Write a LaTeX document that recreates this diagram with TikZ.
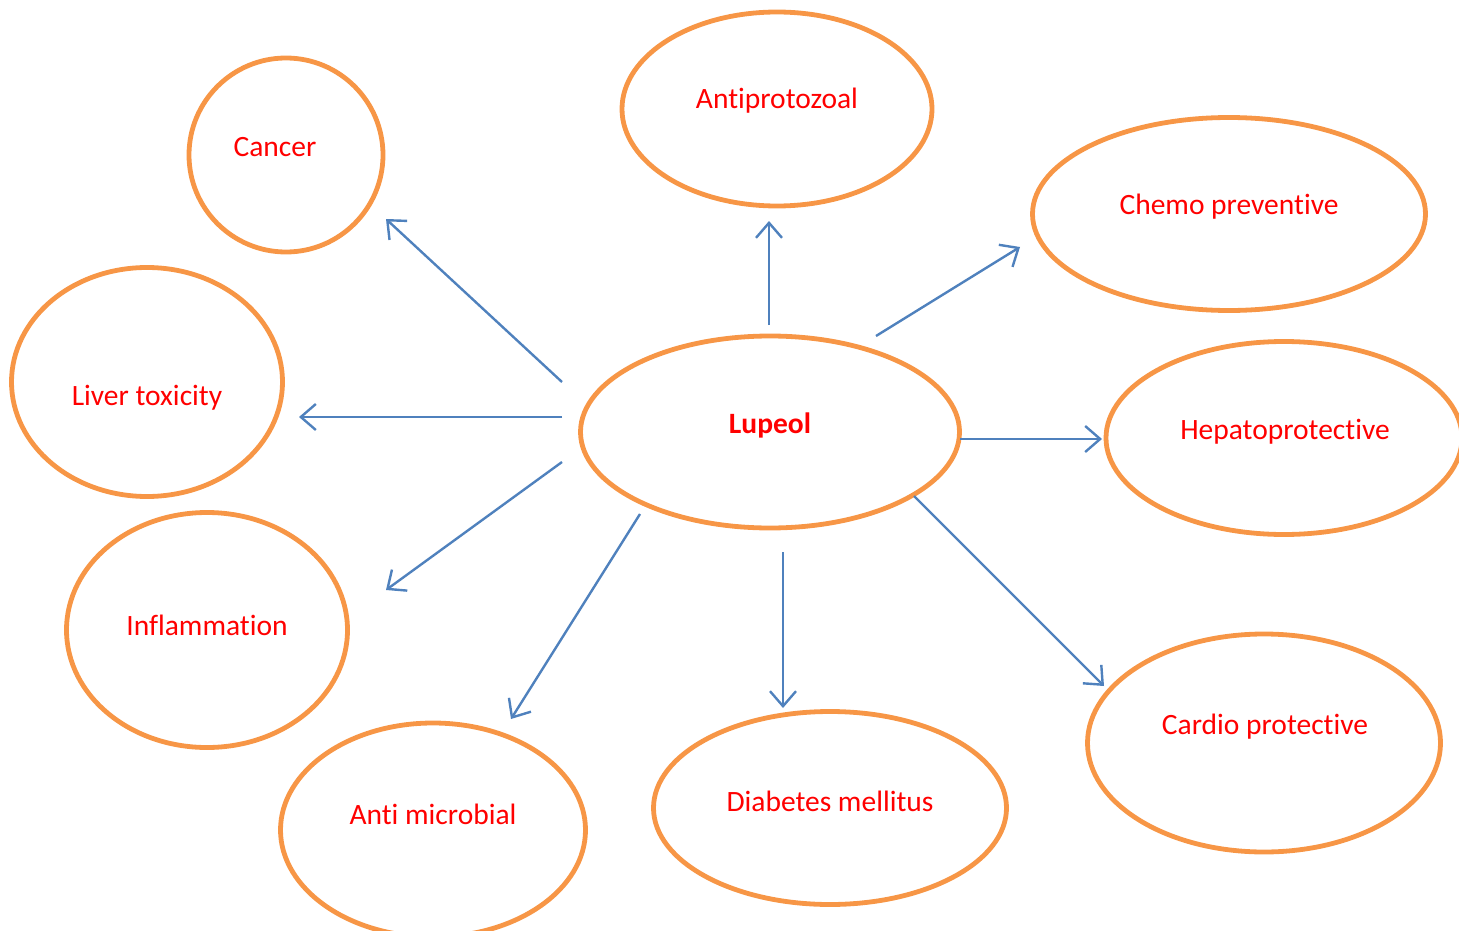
\documentclass[tikz,border=0pt]{standalone}
\usepackage{fontspec}
\setmainfont{Carlito}[Ligatures=NoCommon]
\usetikzlibrary{shapes.geometric,arrows.meta}
\definecolor{ringorange}{HTML}{F79646}
\definecolor{arrowblue}{HTML}{4F81BD}
\definecolor{labelred}{HTML}{FF0000}
\tikzset{
  ring/.style={ellipse, draw=ringorange, line width=4.8pt, inner sep=0pt, outer sep=0pt},
  lbl/.style={text=labelred, inner sep=0pt, font=\fontsize{29.5}{34}\selectfont},
  conn/.style={draw=arrowblue, line width=2.4pt, -{Straight Barb[length=15pt,width=26pt,line width=2.4pt]}}
}
\begin{document}
\begin{tikzpicture}[x=1pt,y=-1pt]
\useasboundingbox (0,0) rectangle (1459,931);
% ellipses
\node[ring, minimum width=194pt, minimum height=194pt] (cancer) at (286,155) {};
\node[ring, minimum width=310pt, minimum height=194pt] (antipro) at (777,109) {};
\node[ring, minimum width=393pt, minimum height=193pt] (chemo) at (1229,214) {};
\node[ring, minimum width=271pt, minimum height=229pt] (liver) at (147,382) {};
\node[ring, minimum width=379pt, minimum height=192pt] (lupeol) at (770,432) {};
\node[ring, minimum width=356pt, minimum height=193pt] (hepato) at (1284,438) {};
\node[ring, minimum width=281pt, minimum height=235pt] (inflam) at (207,630) {};
\node[ring, minimum width=353pt, minimum height=218pt] (cardio) at (1264,743) {};
\node[ring, minimum width=305pt, minimum height=214pt] (micro) at (433,830) {};
\node[ring, minimum width=353pt, minimum height=193pt] (diab) at (830,808) {};
% labels
\node[lbl] (cancerT) at (275,147) {Cancer};
\node[lbl] (antiproT) at (777,101) {Antiprotozoal};
\node[lbl] (chemoT) at (1229,207) {Chemo preventive};
\node[lbl] (liverT) at (147,398) {Liver toxicity};
\node[lbl, font=\fontsize{29.5}{34}\selectfont\bfseries] (lupeolT) at (770,425) {Lupeol};
\node[lbl] (hepatoT) at (1285,432) {Hepatoprotective};
\node[lbl] (inflamT) at (207,625) {Inflammation};
\node[lbl] (cardioT) at (1265,727) {Cardio protective};
\node[lbl] (microT) at (433,814) {Anti microbial};
\node[lbl] (diabT) at (830,801) {Diabetes mellitus};
% connector end points
\coordinate (s1) at (562,382); \coordinate (t1) at (386,219);
\coordinate (s2) at (769,325); \coordinate (t2) at (769,221);
\coordinate (s3) at (876,336); \coordinate (t3) at (1020,247);
\coordinate (s4) at (562,417); \coordinate (t4) at (299,417);
\coordinate (s5) at (562,462); \coordinate (t5) at (386,590);
\coordinate (s6) at (960,439); \coordinate (t6) at (1102,439);
\coordinate (s7) at (640,514); \coordinate (t7) at (511,719);
\coordinate (s8) at (783,552); \coordinate (t8) at (783,708);
\coordinate (s9) at (914,496); \coordinate (t9) at (1104,686);
\foreach \i in {1,...,9} { \draw[conn] (s\i) -- (t\i); }
\end{tikzpicture}
\end{document}
